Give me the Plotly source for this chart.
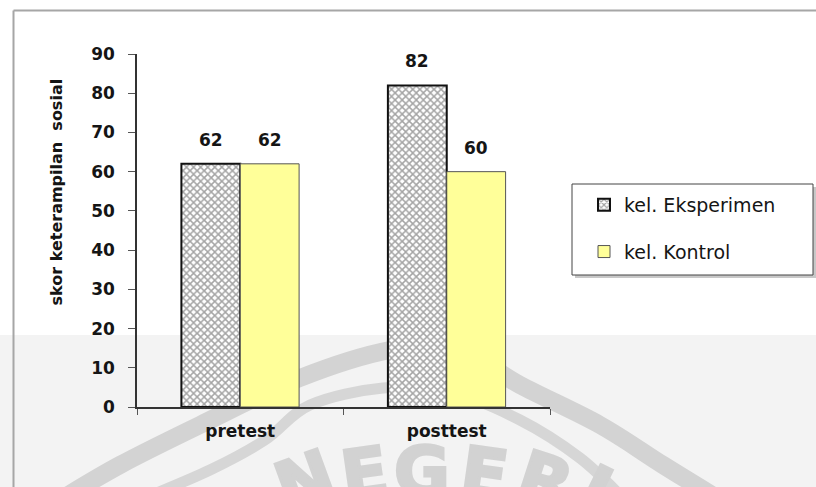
import base64
import plotly.graph_objects as go

# Data
categories = ["pretest", "posttest"]
series_names = ["kel. Eksperimen", "kel. Kontrol"]
eksperimen = [62, 82]
kontrol = [62, 60]
y_ticks = [0, 10, 20, 30, 40, 50, 60, 70, 80, 90]

W, H = 816, 487
ML, MR, MT, MB = 137, 266, 54, 80
PW, PH = W - ML - MR, H - MT - MB
BARGAP = 0.43


def px_x(px):
    return (px - ML) / PW


def px_y(py):
    return (H - MB - py) / PH


def smooth_svg_path(points):
    """Catmull-Rom curve through pixel points as an SVG path string."""
    d = f"M {points[0][0]},{points[0][1]}"
    for i in range(len(points) - 1):
        p0 = points[i - 1] if i > 0 else points[i]
        p1, p2 = points[i], points[i + 1]
        p3 = points[i + 2] if i + 2 < len(points) else p2
        c1 = (p1[0] + (p2[0] - p0[0]) / 6, p1[1] + (p2[1] - p0[1]) / 6)
        c2 = (p2[0] - (p3[0] - p1[0]) / 6, p2[1] - (p3[1] - p1[1]) / 6)
        d += (f" C {c1[0]:.1f},{c1[1]:.1f} {c2[0]:.1f},{c2[1]:.1f}"
              f" {p2[0]},{p2[1]}")
    return d


BOLD = "DejaVu Sans, Verdana, sans-serif"
TXT = "#151515"

# page background: grey lower band with a faint seal watermark
outer_ring = [(60, 500), (120, 465), (200, 425), (300, 378), (390, 350),
              (455, 348), (520, 385), (600, 425), (663, 465), (720, 500)]
inner_ring = [(140, 500), (210, 470), (265, 440), (310, 405), (383, 388),
              (450, 392), (520, 420), (580, 458), (625, 500)]
seal_letters = ["N", "E", "G", "E", "R", "I"]
seal_pos = [(313, 503, -20), (368, 497, -8), (422, 495, 0),
            (481, 497, 8), (538, 503, 18), (585, 512, 26)]
letters_svg = "".join(
    f'<text x="{x}" y="{y}" transform="rotate({a} {x} {y})" text-anchor="middle" '
    f'font-family="DejaVu Sans" font-weight="bold" font-size="68" '
    f'fill="#d2d2d2" stroke="#d2d2d2" stroke-width="3">{ch}</text>'
    for ch, (x, y, a) in zip(seal_letters, seal_pos))
bg_svg = (
    f'<svg xmlns="http://www.w3.org/2000/svg" width="{W}" height="{H}" '
    f'viewBox="0 0 {W} {H}">'
    f'<rect x="0" y="335" width="{W}" height="{H - 335}" fill="#f3f3f3"/>'
    f'<path d="{smooth_svg_path(outer_ring)}" fill="none" stroke="#d3d3d3" '
    f'stroke-width="18"/>'
    f'<path d="{smooth_svg_path(inner_ring)}" fill="none" stroke="#d6d6d6" '
    f'stroke-width="11"/>'
    f'{letters_svg}</svg>'
)
bg_uri = "data:image/svg+xml;base64," + base64.b64encode(bg_svg.encode()).decode()

fig = go.Figure()
fig.add_trace(go.Bar(
    x=categories, y=eksperimen, name=series_names[0],
    marker=dict(color="white",
                line=dict(color="#111111", width=2),
                pattern=dict(shape="x", size=5, solidity=0.5,
                             fgcolor="#4a4a4a", bgcolor="white")),
    legendgroup="a",
))
fig.add_trace(go.Bar(
    x=categories, y=kontrol, name=series_names[1],
    marker=dict(color="#FFFF99", line=dict(color="#555555", width=1)),
    legendgroup="b",
))

# value labels above each bar
half = PW / len(categories) * (1 - BARGAP) / 4
for vals, sh in ((eksperimen, -half), (kontrol, half)):
    for c, v in zip(categories, vals):
        fig.add_annotation(x=c, y=v, text=f"<b>{v}</b>", showarrow=False,
                           xshift=sh, yshift=24,
                           font=dict(family=BOLD, size=17, color=TXT))

# axis title
fig.add_annotation(xref="paper", yref="paper", x=px_x(44), y=px_y(192),
                   text="<b>skor keterampilan\u00a0 sosial</b>", textangle=-90,
                   showarrow=False, font=dict(family=BOLD, size=16, color=TXT))

shapes = [
    # outer frame lines
    dict(type="line", xref="paper", yref="paper", layer="above",
         x0=px_x(13.5), x1=px_x(13.5), y0=px_y(H), y1=px_y(10.5),
         line=dict(color="#a6a6a6", width=2)),
    dict(type="line", xref="paper", yref="paper", layer="above",
         x0=px_x(13.5), x1=px_x(W), y0=px_y(10.5), y1=px_y(10.5),
         line=dict(color="#a6a6a6", width=2)),
    # legend box shadow and box
    dict(type="rect", xref="paper", yref="paper", layer="above",
         x0=px_x(575), x1=px_x(816), y0=px_y(278), y1=px_y(187),
         fillcolor="#c8c8c8", line=dict(width=0)),
    dict(type="rect", xref="paper", yref="paper", layer="above",
         x0=px_x(572), x1=px_x(813), y0=px_y(275), y1=px_y(184),
         fillcolor="white", line=dict(color="#444444", width=1)),
]

fig.update_layout(
    width=W, height=H,
    margin=dict(l=ML, r=MR, t=MT, b=MB),
    paper_bgcolor="white", plot_bgcolor="rgba(0,0,0,0)",
    barmode="group", bargap=BARGAP, bargroupgap=0,
    shapes=shapes,
    images=[dict(source=bg_uri, xref="paper", yref="paper",
                 x=px_x(0), y=px_y(0), sizex=W / PW, sizey=H / PH,
                 xanchor="left", yanchor="top", sizing="stretch",
                 layer="below")],
    showlegend=True,
    legend=dict(x=px_x(584), y=px_y(186), xanchor="left", yanchor="top",
                bgcolor="rgba(0,0,0,0)", borderwidth=0,
                traceorder="grouped", tracegroupgap=19,
                font=dict(family=BOLD, size=19, color=TXT)),
    font=dict(family=BOLD),
)
fig.update_xaxes(showline=True, linecolor="#333333", linewidth=1.5,
                 ticks="outside", ticklen=6, tickcolor="#555555",
                 tickson="boundaries", showgrid=False, ticklabelstandoff=8,
                 tickfont=dict(family=BOLD, size=17, color=TXT),
                 tickvals=categories, ticktext=[f"<b>{c}</b>" for c in categories])
fig.update_yaxes(range=[0, 90], tickvals=y_ticks,
                 ticktext=[f"<b>{t}</b>" for t in y_ticks],
                 showline=True, linecolor="#333333", linewidth=1.5,
                 ticks="outside", ticklen=7, tickcolor="#555555",
                 showgrid=False, zeroline=False, ticklabelstandoff=10,
                 tickfont=dict(family=BOLD, size=17, color=TXT))

fig.write_html("out.html")
